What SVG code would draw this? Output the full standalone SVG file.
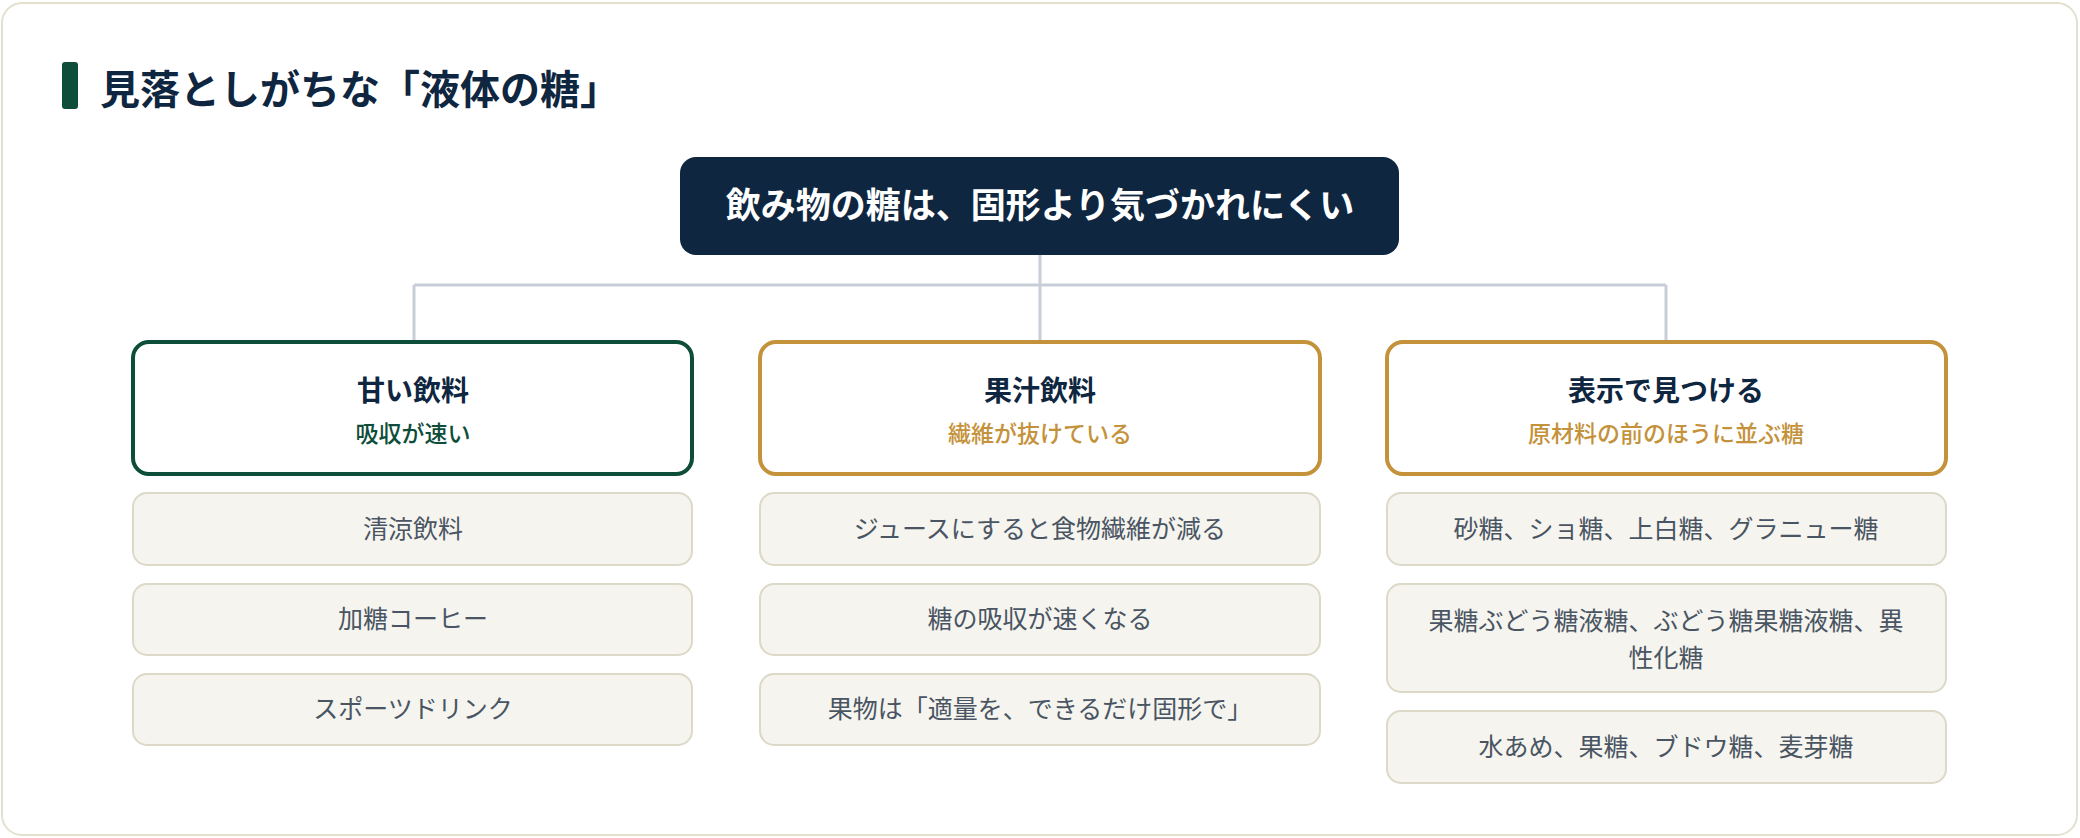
<svg xmlns="http://www.w3.org/2000/svg" width="2080" height="838" viewBox="0 0 2080 838">
<style>
text{font-family:"Noto Sans CJK JP","Noto Sans",sans-serif;text-anchor:middle}
.hd{fill:#fff;stroke-width:4}
.ht{font-size:28px;font-weight:700;fill:#0f2640}
.st{font-size:23px;font-weight:500}
.it{fill:#f5f4ef;stroke:#dcd9c8;stroke-width:2}
.itx{font-size:25px;fill:#4a5563}
.c{stroke:#c8ced8;stroke-width:3;fill:none}
</style>
<rect x="2" y="3" width="2075" height="832" rx="20" fill="#fff" stroke="#e3e0d0" stroke-width="2"/>
<g id="title">
<rect x="62" y="62" width="16" height="47" rx="3" fill="#0d4d3a"/>
<text x="100" y="104" style="text-anchor:start;font-size:40px;font-weight:700;fill:#0f2640">見落としがちな「液体の糖」</text>
</g>
<g id="connectors">
<path class="c" d="M1040 255V285M414 285H1666M414 285V342M1040 285V342M1666 285V342"/>
</g>
<g id="root">
<rect x="680" y="157" width="719" height="98" rx="16" fill="#0f2640"/>
<text x="1040" y="218" style="font-size:35px;font-weight:700;fill:#fff">飲み物の糖は、固形より気づかれにくい</text>
</g>
<g id="col1">
<rect class="hd" x="133" y="342" width="559" height="132" rx="16" stroke="#0d4d3a"/>
<text class="ht" x="413" y="401">甘い飲料</text>
<text class="st" x="413" y="442" fill="#0d4d3a">吸収が速い</text>
</g>
<g id="c1i1"><rect class="it" x="133" y="493" width="559" height="72" rx="14"/><text class="itx" x="413" y="538">清涼飲料</text></g>
<g id="c1i2"><rect class="it" x="133" y="584" width="559" height="71" rx="14"/><text class="itx" x="413" y="628">加糖コーヒー</text></g>
<g id="c1i3"><rect class="it" x="133" y="674" width="559" height="71" rx="14"/><text class="itx" x="413" y="718">スポーツドリンク</text></g>
<g id="col2">
<rect class="hd" x="760" y="342" width="560" height="132" rx="16" stroke="#c4923a"/>
<text class="ht" x="1040" y="401">果汁飲料</text>
<text class="st" x="1040" y="442" fill="#c4923a">繊維が抜けている</text>
</g>
<g id="c2i1"><rect class="it" x="760" y="493" width="560" height="72" rx="14"/><text class="itx" x="1040" y="538">ジュースにすると食物繊維が減る</text></g>
<g id="c2i2"><rect class="it" x="760" y="584" width="560" height="71" rx="14"/><text class="itx" x="1040" y="628">糖の吸収が速くなる</text></g>
<g id="c2i3"><rect class="it" x="760" y="674" width="560" height="71" rx="14"/><text class="itx" x="1040" y="718">果物は「適量を、できるだけ固形で」</text></g>
<g id="col3">
<rect class="hd" x="1387" y="342" width="559" height="132" rx="16" stroke="#c4923a"/>
<text class="ht" x="1666" y="401">表示で見つける</text>
<text class="st" x="1666" y="442" fill="#c4923a">原材料の前のほうに並ぶ糖</text>
</g>
<g id="c3i1"><rect class="it" x="1387" y="493" width="559" height="72" rx="14"/><text class="itx" x="1666" y="538">砂糖、ショ糖、上白糖、グラニュー糖</text></g>
<g id="c3i2"><rect class="it" x="1387" y="584" width="559" height="108" rx="14"/><text class="itx" x="1666" y="630">果糖ぶどう糖液糖、ぶどう糖果糖液糖、異</text><text class="itx" x="1666" y="667">性化糖</text></g>
<g id="c3i3"><rect class="it" x="1387" y="711" width="559" height="72" rx="14"/><text class="itx" x="1666" y="756">水あめ、果糖、ブドウ糖、麦芽糖</text></g>
</svg>
